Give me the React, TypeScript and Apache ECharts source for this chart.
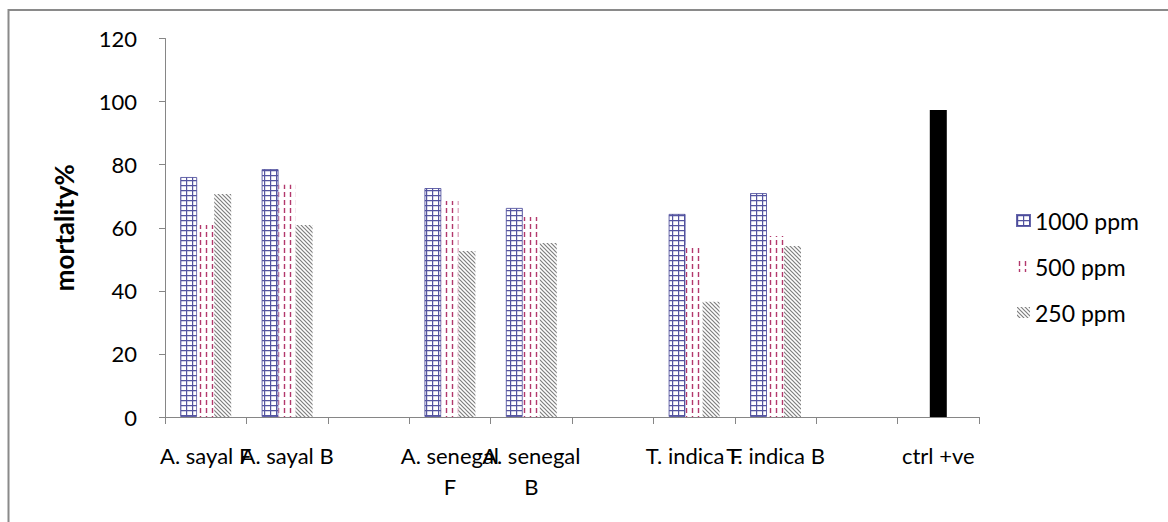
import React, { useEffect, useRef } from 'react';
import * as echarts from 'echarts';

const categories = ['A. sayal F', 'A. sayal B', '', 'A. senegal\nF', 'A. senegal\nB', '', 'T. indica F', 'T. indica B', '', 'ctrl +ve'];
const seriesNames = ['1000 ppm', '500 ppm', '250 ppm'];
const ppm1000 = [76.1, 78.6, null, 72.6, 66.3, null, 64.4, 71.0, null, null];
const ppm500 = [60.9, 73.6, null, 68.5, 63.4, null, 54.5, 57.4, null, 97.3];
const ppm250 = [70.7, 60.9, null, 52.6, 55.2, null, 36.5, 54.2, null, null];
const ctrlIndex = 9;
const yMin = 0;
const yMax = 120;
const yStep = 20;
const yAxisName = 'mortality%';

const FONT = 'Lato, "Open Sans", sans-serif';

function makeTile(w: number, h: number, draw: (ctx: CanvasRenderingContext2D) => void) {
  const c = document.createElement('canvas');
  c.width = w;
  c.height = h;
  const ctx = c.getContext('2d')!;
  ctx.fillStyle = '#ffffff';
  ctx.fillRect(0, 0, w, h);
  draw(ctx);
  return { image: c, repeat: 'repeat', imageWidth: w, imageHeight: h } as any;
}

export default function App() {
  const ref = useRef<HTMLDivElement>(null);
  useEffect(() => {
    if (!ref.current) return;
    const chart = echarts.init(ref.current, undefined, { renderer: 'svg' });

    const gridPat = makeTile(6, 5, (ctx) => {
      ctx.strokeStyle = 'rgba(75,75,155,0.95)';
      ctx.lineWidth = 1.2;
      ctx.beginPath();
      ctx.moveTo(0.6, 0);
      ctx.lineTo(0.6, 5);
      ctx.moveTo(0, 0.6);
      ctx.lineTo(6, 0.6);
      ctx.stroke();
    });
    const dashPat = makeTile(6, 8, (ctx) => {
      ctx.strokeStyle = 'rgba(175,45,100,0.95)';
      ctx.lineWidth = 1.4;
      ctx.beginPath();
      ctx.moveTo(2.5, 0);
      ctx.lineTo(2.5, 5);
      ctx.stroke();
    });
    const diagPat = makeTile(4, 4, (ctx) => {
      ctx.strokeStyle = 'rgba(120,120,120,0.95)';
      ctx.lineWidth = 1.2;
      ctx.beginPath();
      ctx.moveTo(-1, -1);
      ctx.lineTo(5, 5);
      ctx.moveTo(-1, 3);
      ctx.lineTo(1, 5);
      ctx.moveTo(3, -1);
      ctx.lineTo(5, 1);
      ctx.stroke();
    });

    const toData = (arr: (number | null)[], isCtrlSeries: boolean) =>
      arr.map((v, i) => {
        if (v == null) return '-';
        if (isCtrlSeries && i === ctrlIndex) return { value: v, itemStyle: { color: '#000000' } };
        return v;
      });

    const common = {
      type: 'bar',
      barWidth: 17,
      barGap: '0%',
    };

    chart.setOption({
      animation: false,
      backgroundColor: '#ffffff',
      grid: { left: 165, right: 189, top: 38.5, bottom: 105, containLabel: false },
      graphic: [
        {
          type: 'rect',
          shape: { x: 8.5, y: 10, width: 1300, height: 700 },
          style: { fill: 'none', stroke: '#8a8a8a', lineWidth: 2 },
          silent: true,
        },
      ],
      legend: {
        orient: 'vertical',
        left: 1016,
        top: 208,
        padding: 0,
        itemGap: 21,
        itemWidth: 13,
        itemHeight: 11,
        icon: 'rect',
        data: seriesNames,
        textStyle: { fontFamily: FONT, fontSize: 23, lineHeight: 25, color: '#000' },
      },
      xAxis: {
        type: 'category',
        data: categories,
        axisLine: { lineStyle: { color: '#868686', width: 1 } },
        axisTick: { show: true, length: 7, lineStyle: { color: '#868686' } },
        axisLabel: {
          interval: 0,
          fontFamily: FONT,
          fontSize: 22,
          lineHeight: 31,
          margin: 23,
          color: '#000',
        },
        splitLine: { show: false },
      },
      yAxis: {
        type: 'value',
        min: yMin,
        max: yMax,
        interval: yStep,
        name: yAxisName,
        nameLocation: 'middle',
        nameGap: 88,
        nameTextStyle: { fontFamily: FONT, fontSize: 26, fontWeight: 'bold', color: '#000' },
        axisLine: { show: true, lineStyle: { color: '#868686', width: 1 } },
        axisTick: { show: true, length: 6, lineStyle: { color: '#868686' } },
        axisLabel: { fontFamily: FONT, fontSize: 22, margin: 28, color: '#000' },
        splitLine: { show: false },
      },
      series: [
        {
          ...common,
          name: seriesNames[0],
          data: toData(ppm1000, false),
          itemStyle: { color: gridPat, borderColor: 'rgba(75,75,155,0.85)', borderWidth: 1 },
        },
        {
          ...common,
          name: seriesNames[1],
          data: toData(ppm500, true),
          itemStyle: { color: dashPat },
        },
        {
          ...common,
          name: seriesNames[2],
          data: toData(ppm250, false),
          itemStyle: { color: diagPat },
        },
      ],
    });
    return () => chart.dispose();
  }, []);
  return (
    <div
      ref={ref}
      style={{ position: 'absolute', left: 0, top: 0, width: 1168, height: 522, background: '#fff' }}
    />
  );
}
